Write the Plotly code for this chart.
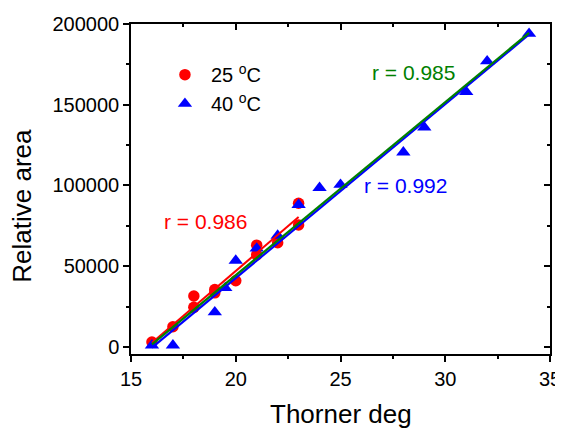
import plotly.graph_objects as go

# ---- data ----
x_25 = [16, 17, 18, 18, 19, 19, 20, 21, 21, 22, 23, 23]
y_25 = [3000, 12500, 31500, 24500, 35500, 33500, 41000, 63000, 57000, 64500, 75500, 89000]

x_40 = [16, 17, 19, 19.5, 20, 21, 22, 23, 24, 25, 28, 29, 31, 32, 34]
y_40 = [1000, 1000, 21500, 36500, 53500, 61000, 69000, 88000, 98500, 100500, 120500, 136000, 158000, 177000, 194000]

fit_25_x = [16, 23]
fit_25_y = [2600, 80400]
fit_40_x = [16, 34]
fit_40_y = [-500, 193500]
fit_all_x = [16, 34]
fit_all_y = [1500, 194500]

r_labels = ["r = 0.986", "r = 0.992", "r = 0.985"]
r_x = [18.56, 28.08, 28.48]
r_y = [77500, 100000, 170000]
r_colors = ["red", "blue", "green"]

legend_names = ["25 <sup>o</sup>C", "40 <sup>o</sup>C"]

FONT = "Liberation Sans, Arial, sans-serif"
XR = [15, 35]
YR = [-4400, 200000]

fig = go.Figure()
fig.add_trace(go.Scatter(x=x_25, y=y_25, mode="markers", name=legend_names[0],
                         marker=dict(symbol="circle", size=11.5, color="red")))
fig.add_trace(go.Scatter(x=x_40, y=y_40, mode="markers", name=legend_names[1],
                         marker=dict(symbol="triangle-up", size=12.5, color="blue")))
fig.add_trace(go.Scatter(x=fit_25_x, y=fit_25_y, mode="lines", showlegend=False,
                         line=dict(color="red", width=2)))
fig.add_trace(go.Scatter(x=fit_40_x, y=fit_40_y, mode="lines", showlegend=False,
                         line=dict(color="blue", width=2.2)))
fig.add_trace(go.Scatter(x=fit_all_x, y=fit_all_y, mode="lines", showlegend=False,
                         line=dict(color="green", width=2.2)))
# invisible trace for the mirrored (top / right) axes
fig.add_trace(go.Scatter(x=[XR[0]], y=[YR[0]], xaxis="x2", yaxis="y2", mode="markers",
                         marker=dict(opacity=0), showlegend=False, hoverinfo="skip"))

for t, xx, yy, c in zip(r_labels, r_x, r_y, r_colors):
    fig.add_annotation(x=xx, y=yy, text=t, showarrow=False, font=dict(size=21, color=c, family=FONT),
                       xanchor="center", yanchor="middle")

fig.add_annotation(xref="paper", yref="paper", x=0.5, y=-0.13, text="Thorner deg", showarrow=False,
                   font=dict(size=26, color="black", family=FONT), xanchor="center", yanchor="top")
fig.add_annotation(xref="paper", yref="paper", x=-0.262, y=0.45, text="Relative area", showarrow=False,
                   textangle=-90, font=dict(size=26, color="black", family=FONT),
                   xanchor="center", yanchor="middle")

axis_common = dict(showgrid=False, zeroline=False, showline=True, linecolor="black", linewidth=1.5,
                   tickcolor="black", tickwidth=1.5, ticklen=6, automargin=False,
                   tickfont=dict(size=20, color="black", family=FONT))

# the page body has an 8 px margin, so the figure is drawn 8 px right and down
fig.update_layout(
    width=555, height=420,
    margin=dict(l=123, r=13, t=16, b=74),
    paper_bgcolor="white", plot_bgcolor="white",
    font=dict(family=FONT, color="black"),
    xaxis=dict(range=XR, tickvals=[15, 20, 25, 30, 35], ticks="outside",
               minor=dict(dtick=2.5, tick0=15, ticks="outside", ticklen=3, tickcolor="black", tickwidth=1.5),
               **axis_common),
    yaxis=dict(range=YR, tickvals=[0, 50000, 100000, 150000, 200000], ticks="outside",
               tickformat="d",
               minor=dict(dtick=25000, tick0=0, ticks="outside", ticklen=3, tickcolor="black", tickwidth=1.5),
               **axis_common),
    xaxis2=dict(range=XR, overlaying="x", side="top", tickvals=[15, 20, 25, 30, 35], ticks="inside",
                showticklabels=False,
                minor=dict(dtick=2.5, tick0=15, ticks="inside", ticklen=3, tickcolor="black", tickwidth=1.5),
                **axis_common),
    yaxis2=dict(range=YR, overlaying="y", side="right", tickvals=[0, 50000, 100000, 150000, 200000],
                ticks="inside", showticklabels=False,
                minor=dict(dtick=25000, tick0=0, ticks="inside", ticklen=3, tickcolor="black", tickwidth=1.5),
                **axis_common),
    showlegend=True,
    legend=dict(x=0.0667, y=0.9055, xanchor="left", yanchor="top", bgcolor="rgba(0,0,0,0)",
                font=dict(size=20, color="black", family=FONT), tracegroupgap=0,
                itemsizing="trace", itemwidth=42),
)

fig.write_html("out.html")
